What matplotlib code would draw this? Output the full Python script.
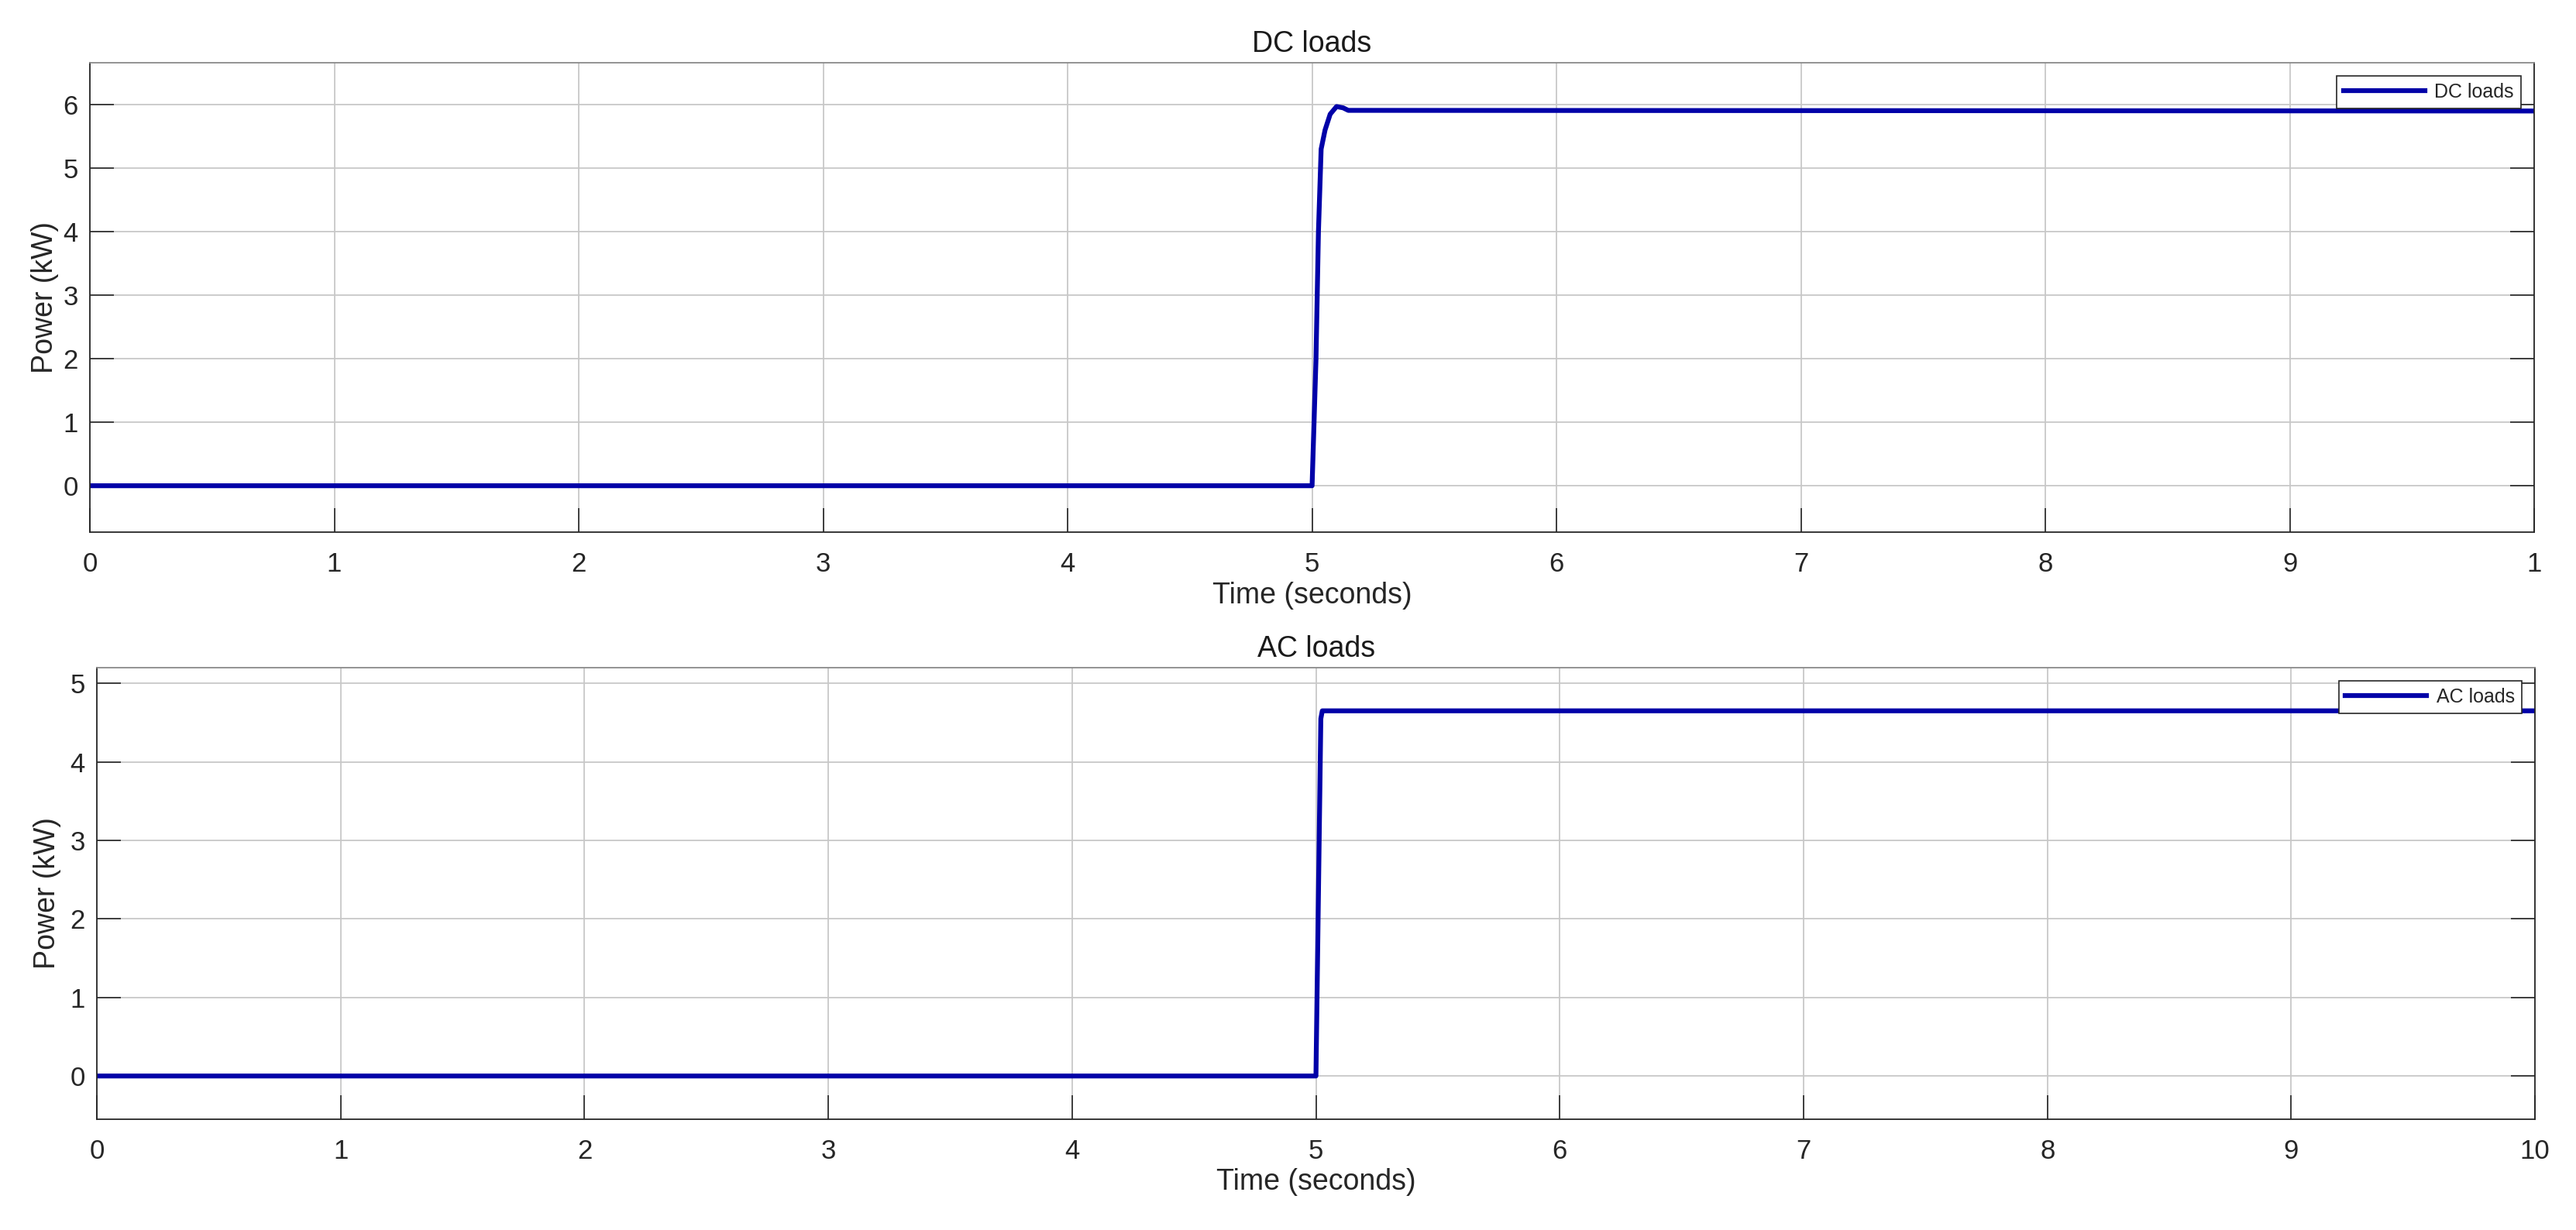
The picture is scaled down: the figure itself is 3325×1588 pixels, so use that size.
import matplotlib
matplotlib.use("Agg")
import matplotlib.pyplot as plt

# DC loads step (kW)
t_dc = [0.0, 5.0, 5.016, 5.026, 5.037, 5.053, 5.074, 5.10, 5.127, 5.148, 10.0]
p_dc = [0.0, 0.0, 2.0, 4.0, 5.3, 5.6, 5.85, 5.97, 5.95, 5.91, 5.9]

# AC loads step (kW)
t_ac = [0.0, 5.0, 5.02, 5.026, 10.0]
p_ac = [0.0, 0.0, 4.55, 4.65, 4.65]

x_ticks = list(range(0, 11))
top_xlabels = [str(v) for v in range(10)] + ["1"]   # last label clipped in the original
bot_xlabels = [str(v) for v in x_ticks]

plt.rcParams["font.family"] = ["Liberation Sans", "DejaVu Sans"]
LINE = "#0000A8"
DARK = "#262626"

fig = plt.figure(figsize=(33.25, 15.88), dpi=100)
ax1 = fig.add_axes([0.0349, 0.5674, 0.9489, 0.3816])
ax2 = fig.add_axes([0.0376, 0.0901, 0.9465, 0.3671])


def style(ax, ylim, yticks, xlabels, title, ylabelpad):
    ax.set_xlim(0, 10)
    ax.set_ylim(*ylim)
    ax.set_xticks(x_ticks)
    ax.set_xticklabels(xlabels)
    ax.set_yticks(yticks)
    ax.grid(True, color="#c8c8c8", lw=1.3)
    ax.set_axisbelow(True)
    ax.tick_params(direction="in", length=22, width=1.2, color=DARK,
                   labelsize=25, labelcolor=DARK, top=False, right=True)
    ax.tick_params(axis="x", pad=18)
    ax.tick_params(axis="y", pad=11)
    for s in ax.spines.values():
        s.set_color(DARK)
        s.set_linewidth(1.3)
    ax.spines["top"].set_color("#8a8a8a")
    ax.set_title(title, fontsize=27, color="#1a1a1a", pad=10)
    ax.set_xlabel("Time (seconds)", fontsize=27, color=DARK, labelpad=4)
    ax.set_ylabel("Power (kW)", fontsize=27, color=DARK, labelpad=ylabelpad)
    leg = ax.legend(loc="upper right", fontsize=18, fancybox=False,
                    handlelength=4.2, borderaxespad=0.7, borderpad=0.35,
                    handletextpad=0.5, framealpha=1)
    leg.get_frame().set_edgecolor(DARK)
    leg.get_frame().set_linewidth(1.2)
    for txt in leg.get_texts():
        txt.set_color(DARK)


ax1.plot(t_dc, p_dc, color=LINE, lw=4.5, solid_joinstyle="round", label="DC loads")
style(ax1, (-0.73, 6.66), range(0, 7), top_xlabels, "DC loads", 4)

ax2.plot(t_ac, p_ac, color=LINE, lw=4.5, solid_joinstyle="round", label="AC loads")
style(ax2, (-0.55, 5.2), range(0, 6), bot_xlabels, "AC loads", 8)

fig.savefig("out.png", dpi=100, facecolor="white")
